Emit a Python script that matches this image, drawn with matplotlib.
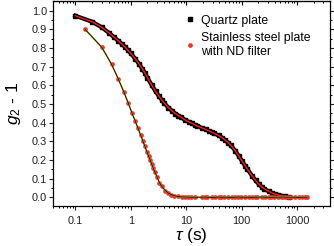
"""Korrelationsfunktion g2 - 1 fuer Quarzplatte und Edelstahlplatte (mit ND-Filter)."""

import matplotlib

matplotlib.use("Agg")
import matplotlib.pyplot as plt
from matplotlib.ticker import FixedLocator, FormatStrFormatter, LogLocator, NullFormatter

plt.rcParams["font.family"] = ["Liberation Sans", "DejaVu Sans"]
plt.rcParams["mathtext.fontset"] = "custom"
plt.rcParams["mathtext.rm"] = "Liberation Sans"
plt.rcParams["mathtext.it"] = "Liberation Sans:italic"
plt.rcParams["mathtext.bf"] = "Liberation Sans:bold"

# === Quarzplatte (schwarze Quadrate + rote Fit-Kurve) ===
quartz_tau = [
    0.1, 0.2, 0.3, 0.4, 0.5, 0.6, 0.7, 0.8, 0.9, 1.0,
    1.2, 1.4, 1.6, 1.8, 2.0,
    2.4, 2.8, 3.2, 3.6, 4.0,
    4.8, 5.6, 6.4, 7.2, 8.0,
    9.6, 11.2, 12.8, 14.4, 16.0,
    19.2, 22.4, 25.6, 28.8, 32.0,
    38.4, 44.8, 51.2, 57.6, 64.0,
    76.8, 89.6, 102.4, 115.2, 128.0,
    153.6, 179.2, 204.8, 230.4, 256.0,
    307.0, 358.0, 410.0, 461.0, 512.0,
    614.0, 717.0,
]
quartz_g = [
    0.973, 0.941, 0.911, 0.882, 0.858, 0.838, 0.820, 0.803, 0.787, 0.772,
    0.743, 0.716, 0.690, 0.667, 0.640,
    0.600, 0.568, 0.543, 0.523, 0.506,
    0.480, 0.462, 0.448, 0.438, 0.430,
    0.414, 0.404, 0.396, 0.388, 0.382,
    0.372, 0.364, 0.356, 0.349, 0.343,
    0.331, 0.319, 0.305, 0.292, 0.278,
    0.250, 0.220, 0.193, 0.170, 0.150,
    0.116, 0.090, 0.070, 0.056, 0.045,
    0.032, 0.022, 0.016, 0.012, 0.009,
    0.004, 0.001,
]

# === Edelstahlplatte mit ND-Filter (rote Kreise + Fits) ===
steel_tau = [
    0.15, 0.30, 0.45, 0.60, 0.75, 0.90, 1.05, 1.20, 1.35, 1.50,
    1.65, 1.80, 1.95, 2.10, 2.25, 2.40, 2.55, 2.70,
    3.0, 3.3, 3.6, 4.2, 4.8, 5.4, 6.0, 7.2, 8.4, 9.6,
    10.8, 12.0, 14.4,
    19.2, 21.6, 24.0, 28.8, 33.6, 38.4, 43.2, 48.0,
    57.6, 67.2, 76.8, 86.4, 96.0, 115.0, 134.0, 154.0, 173.0, 192.0,
    230.0, 269.0, 307.0, 346.0, 384.0, 461.0, 538.0, 614.0, 691.0, 768.0,
    922.0, 1075.0, 1229.0, 1382.0, 1536.0,
]
steel_g = [
    0.900, 0.804, 0.713, 0.632, 0.565, 0.505, 0.452, 0.410, 0.370, 0.335,
    0.303, 0.272, 0.245, 0.220, 0.198, 0.176, 0.155, 0.137,
    0.108, 0.078, 0.060, 0.036, 0.022, 0.014, 0.009, 0.004, 0.002, 0.001,
    0.001, 0.000, 0.000,
    0.000, 0.001, 0.000, -0.001, 0.000, 0.001, 0.000, 0.000,
    0.000, -0.001, 0.000, 0.001, 0.000, 0.000, 0.000, -0.001, 0.000, 0.000,
    0.001, 0.000, 0.000, -0.001, 0.000, 0.000, 0.001, 0.000, 0.000, 0.000,
    0.000, -0.001, 0.000, 0.000, 0.000,
]

x_ticks = [0.1, 1, 10, 100, 1000]
x_ticklabels = ["0.1", "1", "10", "100", "1000"]
y_ticks = [0.0, 0.1, 0.2, 0.3, 0.4, 0.5, 0.6, 0.7, 0.8, 0.9, 1.0]

fig = plt.figure(figsize=(3.34, 2.46), dpi=100, facecolor="white")
ax = fig.add_axes([0.1596, 0.1626, 0.8284, 0.8333])

# Luecke in den roten Daten bei ~17 s
gap = steel_tau.index(19.2)

# Quarz: dichte schwarze Quadrate als Band
ax.plot(quartz_tau, quartz_g, color="black", linewidth=3.0, zorder=2)
ax.plot(
    quartz_tau, quartz_g, linestyle="none", marker="s", markersize=3.3,
    color="black", zorder=3, label="Quartz plate",
)
ax.plot(quartz_tau, quartz_g, color="#ff1a1a", linewidth=1.0, zorder=4)

# Edelstahl: rote Kreise, gelbe + schwarze Fit-Linie
ax.plot(
    steel_tau[:gap], steel_g[:gap], linestyle="none", marker="o", markersize=3.4,
    color="#f03030", markeredgewidth=0, zorder=3,
    label="Stainless steel plate\nwith ND filter",
)
ax.plot(
    steel_tau[gap:], steel_g[gap:], linestyle="none", marker="o", markersize=3.4,
    color="#f03030", markeredgewidth=0, zorder=3,
)
ax.plot(steel_tau, steel_g, color="#f5c400", linewidth=1.1, zorder=4)
ax.plot(steel_tau, steel_g, color="#1a1a1a", linewidth=0.8, zorder=5)

# === Achsen ===
ax.set_xscale("log")
ax.set_xlim(0.04, 3950)
ax.set_ylim(-0.047, 1.052)

ax.xaxis.set_major_locator(FixedLocator(x_ticks))
ax.set_xticklabels(x_ticklabels)
ax.xaxis.set_minor_locator(LogLocator(base=10, subs=range(2, 10), numticks=20))
ax.xaxis.set_minor_formatter(NullFormatter())

ax.set_yticks(y_ticks)
ax.yaxis.set_major_formatter(FormatStrFormatter("%.1f"))
ax.set_yticks([v + 0.05 for v in y_ticks[:-1]], minor=True)

for side in ["left", "right", "top", "bottom"]:
    ax.spines[side].set_linewidth(0.9)

ax.tick_params(axis="both", which="major", direction="out", length=3.0, width=0.8,
               labelsize=7.9, colors="#222222")
ax.tick_params(axis="both", which="minor", direction="out", length=1.6, width=0.7)
ax.tick_params(axis="y", which="both", right=True, pad=1.5)
ax.tick_params(axis="x", which="major", pad=4.0)

# Obere Achse: Ticks nach innen
top = ax.secondary_xaxis("top")
top.set_xticks(x_ticks)
top.xaxis.set_minor_locator(LogLocator(base=10, subs=range(2, 10), numticks=20))
top.tick_params(which="major", direction="in", length=3.0, width=0.8, labeltop=False)
top.tick_params(which="minor", direction="in", length=1.6, width=0.7)
top.set_xticklabels([])

ax.set_ylabel(r"$g_2$ - 1", fontsize=12.5, labelpad=6)
ax.set_xlabel(r"$\tau$ (s)", fontsize=12.5, labelpad=0)

ax.legend(
    loc="upper left", bbox_to_anchor=(0.44, 0.975), frameon=False,
    fontsize=8.8, handlelength=1.0, handletextpad=0.45, labelspacing=0.45,
    borderpad=0.2, markerscale=1.0,
)

fig.savefig("out.png", dpi=100, facecolor="white")
plt.close(fig)
